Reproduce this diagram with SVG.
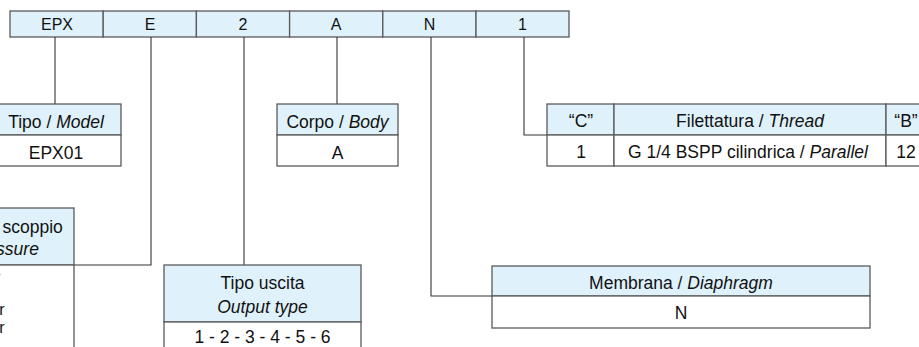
<svg xmlns="http://www.w3.org/2000/svg" width="919" height="347" viewBox="0 0 919 347">
<style>
.hd{fill:#dff1fb;stroke:#5a5a5a;stroke-width:1.3}
.bd{fill:#ffffff;stroke:#5a5a5a;stroke-width:1.3}
.ln{fill:none;stroke:#333;stroke-width:1.1}
text{font-family:"Liberation Sans","Noto Sans",sans-serif;font-size:17.5px;fill:#111;text-anchor:middle}
.top{font-size:16px}
.it{font-style:italic}
.sm{font-size:16px}
</style>
<rect width="919" height="347" fill="#ffffff"/>
<g id="code-bar">
<rect class="hd" x="10" y="11" width="93.2" height="26"/>
<rect class="hd" x="103.2" y="11" width="93.2" height="26"/>
<rect class="hd" x="196.4" y="11" width="93.2" height="26"/>
<rect class="hd" x="289.6" y="11" width="93.2" height="26"/>
<rect class="hd" x="382.8" y="11" width="93.2" height="26"/>
<rect class="hd" x="476" y="11" width="93" height="26"/>
<text class="top" x="57" y="30">EPX</text>
<text class="top" x="150" y="30">E</text>
<text class="top" x="243" y="30">2</text>
<text class="top" x="336" y="30">A</text>
<text class="top" x="429.5" y="30">N</text>
<text class="top" x="522.5" y="30">1</text>
</g>
<g id="connectors">
<path class="ln" d="M55 37V104"/>
<path class="ln" d="M151 37V265H74"/>
<path class="ln" d="M244 37V265"/>
<path class="ln" d="M337 37V104"/>
<path class="ln" d="M431 37V296H492"/>
<path class="ln" d="M524 37V135H547"/>
</g>
<g id="model">
<rect class="hd" x="-11" y="104" width="132" height="31"/>
<rect class="bd" x="-11" y="135" width="132" height="31"/>
<text x="56" y="128">Tipo / <tspan class="it">Model</tspan></text>
<text x="56" y="159">EPX01</text>
</g>
<g id="body">
<rect class="hd" x="277" y="104" width="121" height="31"/>
<rect class="bd" x="277" y="135" width="121" height="31"/>
<text x="337.5" y="128">Corpo / <tspan class="it">Body</tspan></text>
<text x="337.5" y="159">A</text>
</g>
<g id="thread">
<rect class="hd" x="547" y="104" width="67" height="31"/>
<rect class="hd" x="614" y="104" width="272" height="31"/>
<rect class="hd" x="886" y="104" width="40" height="31"/>
<rect class="bd" x="547" y="135" width="67" height="31"/>
<rect class="bd" x="614" y="135" width="272" height="31"/>
<rect class="bd" x="886" y="135" width="40" height="31"/>
<text x="581" y="127">“C”</text>
<text x="750" y="127">Filettatura / <tspan class="it">Thread</tspan></text>
<text x="906" y="127">“B”</text>
<text x="581" y="158">1</text>
<text x="748" y="158">G 1/4 BSPP cilindrica / <tspan class="it">Parallel</tspan></text>
<text x="906" y="158">12</text>
</g>
<g id="burst-pressure">
<rect class="hd" x="-110" y="208" width="184" height="57"/>
<rect class="bd" x="-110" y="265" width="184" height="90"/>
<text x="-18" y="233">Pressione di scoppio</text>
<text class="it" x="-18" y="255">Burst pressure</text>
<text class="sm" x="-18" y="283">5 bar</text>
<text class="sm" x="-18" y="315">10 bar</text>
<text class="sm" x="-18" y="333">10 bar</text>
</g>
<g id="output-type">
<rect class="hd" x="164" y="265" width="197" height="57"/>
<rect class="bd" x="164" y="322" width="197" height="40"/>
<text x="262.5" y="289">Tipo uscita</text>
<text class="it" x="262.5" y="313">Output type</text>
<text x="262.5" y="343">1 - 2 - 3 - 4 - 5 - 6</text>
</g>
<g id="diaphragm">
<rect class="hd" x="492" y="266" width="378" height="30"/>
<rect class="bd" x="492" y="296" width="378" height="32"/>
<text x="681" y="289">Membrana / <tspan class="it">Diaphragm</tspan></text>
<text x="681" y="319">N</text>
</g>
</svg>
